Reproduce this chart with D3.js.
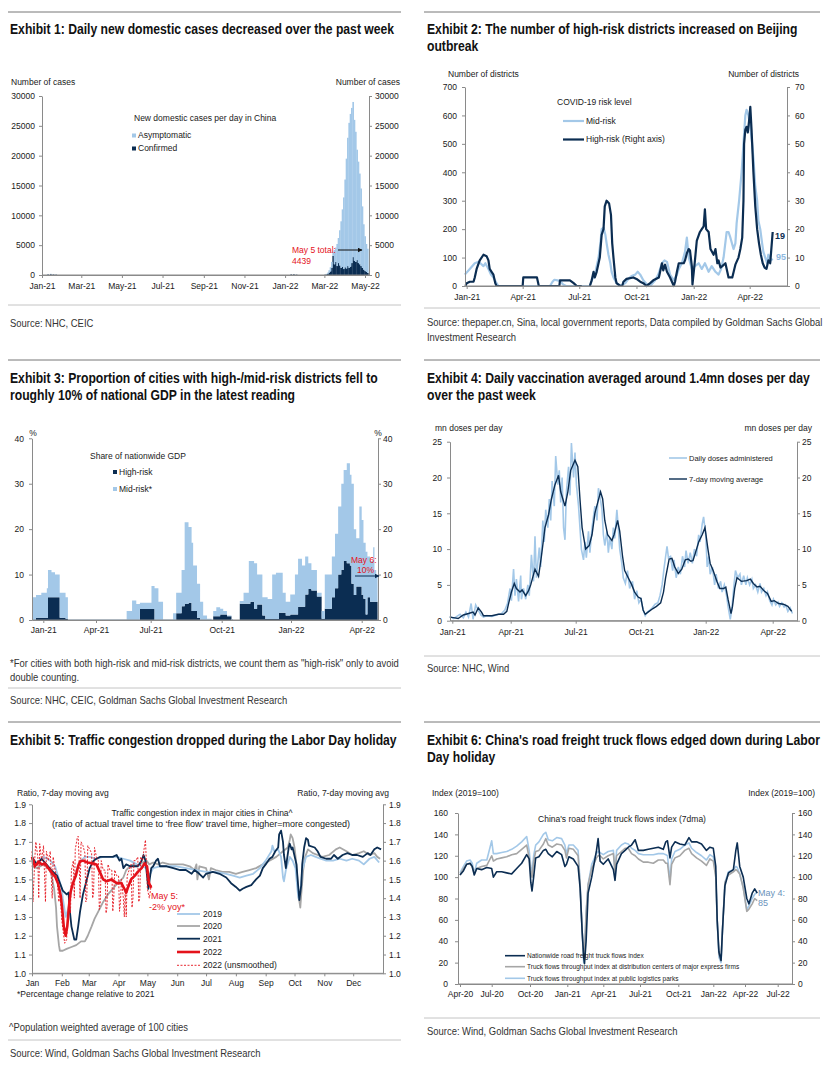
<!DOCTYPE html>
<html>
<head>
<meta charset="utf-8">
<script src="https://cdn.jsdelivr.net/npm/d3@7"></script>
<style>
  body { margin: 0; background: #fff; }
  text { font-family: "Liberation Sans", Arial, sans-serif; fill: #1a1a1a; font-size: 8.5px; }
  .title { font-weight: bold; font-size: 14.5px; fill: #111; }
  .src { font-size: 10.5px; fill: #333; }
  .axis text { font-family: "Liberation Sans", Arial, sans-serif; font-size: 8.5px; fill: #1a1a1a; }
</style>
</head>
<body>
<svg id="chart" width="831" height="1066"></svg>
<script>
const NAVY = '#0b2d52', LIGHT = '#a3c8e8', GRAY = '#a6a6a6', RED = '#e4121b', STEEL = '#6b93bb';
const parseDate = d3.timeParse('%Y-%m-%d');
const monthFmt = d3.timeFormat('%b-%y');

// ---- Exhibit 1: daily new domestic cases (2-day bins)
const casesDates = ['2021-01-09','2021-01-13','2021-01-17','2021-01-21','2022-01-09','2022-01-13','2022-01-17',
  '2022-03-01','2022-03-03','2022-03-05','2022-03-07','2022-03-09','2022-03-11','2022-03-13','2022-03-15',
  '2022-03-17','2022-03-19','2022-03-21','2022-03-23','2022-03-25','2022-03-27','2022-03-29','2022-03-31',
  '2022-04-02','2022-04-04','2022-04-06','2022-04-08','2022-04-10','2022-04-12','2022-04-14','2022-04-16',
  '2022-04-18','2022-04-20','2022-04-22','2022-04-24','2022-04-26','2022-04-28','2022-04-30','2022-05-02','2022-05-04'];
const casesConfirmed = [100,130,100,60,100,120,60,
  50,100,200,400,600,1200,3200,1800,2200,1500,2000,1600,1200,1400,1000,1300,
  1100,1500,1200,1400,2000,3000,2400,2200,2500,2000,1800,1500,1200,900,700,500,350];
const casesAsym = [60,70,50,30,20,30,20,
  50,100,200,400,700,1000,700,2400,2400,3700,4200,5900,7800,9600,12000,14700,
  18400,21500,24300,25600,26000,26000,23600,21800,18500,17000,15200,13000,10300,7600,5800,4700,4050];
const p1Ticks = ['2021-01-01','2021-03-01','2021-05-01','2021-07-01','2021-09-01','2021-11-01','2022-01-01','2022-03-01','2022-05-01'];
const p1YTicks = [0,5000,10000,15000,20000,25000,30000];

// ---- Exhibit 2: districts by risk level, [days since 2021-01-01, value]
const midRisk = [[-3,40],[5,60],[13,80],[19,85],[22,80],[27,70],[30,80],[35,60],[39,40],[43,30],[48,10],[51,0],
  [134,0],[138,15],[141,22],[146,20],[150,18],[155,5],[160,0],[198,0],[201,20],[206,40],[212,100],[215,150],
  [217,200],[220,205],[223,180],[225,150],[228,110],[231,80],[233,50],[236,30],[241,10],[247,0],[255,10],
  [260,25],[265,35],[271,40],[275,50],[279,40],[284,20],[290,5],[295,0],[303,20],[308,40],[314,80],[318,90],
  [322,85],[327,40],[333,20],[338,40],[341,60],[346,80],[351,120],[354,170],[357,100],[362,60],[367,70],
  [373,80],[378,60],[383,80],[389,50],[394,70],[400,50],[405,40],[409,60],[413,100],[418,190],[421,190],
  [424,170],[429,130],[432,150],[434,220],[438,300],[442,400],[445,500],[448,600],[450,620],[453,600],
  [456,560],[459,500],[461,450],[464,350],[467,300],[469,230],[472,200],[475,150],[477,120],[480,100],
  [483,80],[485,110],[489,90],[492,95]];
const highRisk = [[-2,0],[0,1],[5,1.5],[11,1.5],[13,3],[16,6],[21,9],[27,11],[32,10.5],[35,9],[37,6],[40,5],
  [43,4],[46,1],[48,0],[90,0],[91,3],[113,3],[116,0],[149,0],[150,2],[166,2],[172,1],[177,0],[185,0],[186,null],
  [198,0],[201,2],[204,5],[206,3],[209,5],[214,10],[217,18],[220,20],[222,28],[225,30],[229,29],[232,25],
  [234,15],[236,10],[239,3],[241,1],[247,0],[250,0],[252,1.5],[257,2.5],[268,3],[273,2.5],[279,1.5],[284,1],
  [289,0],[295,1],[300,2],[309,3],[311,5],[314,8],[316,5.5],[319,7.5],[322,5],[327,3],[330,1.5],[333,0],
  [335,1.5],[338,5],[341,8],[349,8],[351,9],[354,11.5],[357,13],[359,12.5],[362,7],[363,0.5],[367,9],
  [370,16],[375,19],[378,20],[381,21],[383,27],[385,20],[389,19],[392,13],[397,11],[400,13],[403,8],[405,9],
  [408,6.5],[411,7],[416,8],[419,5],[421,3],[427,3],[432,7.5],[435,9],[437,10],[440,13],[443,17],[445,30],
  [446,50],[448,55],[450,56],[452,54],[454,58],[456,63],[458,55],[461,40],[464,28],[467,20],[470,15],
  [473,11],[476,8],[479,6.5],[482,6],[485,9],[488,8],[492,19]];
const quarterDays = [0,90,181,273,365,455];
const quarterLabels = ['Jan-21','Apr-21','Jul-21','Oct-21','Jan-22','Apr-22'];

// ---- Exhibit 3: share of GDP (step series)
const gdpDates = ['2020-12-15','2020-12-21','2020-12-29','2021-01-07','2021-01-09','2021-01-15','2021-01-21',
  '2021-01-29','2021-02-04','2021-02-08','2021-02-12','2021-05-22','2021-05-31','2021-06-07','2021-06-13',
  '2021-07-02','2021-07-06','2021-07-11','2021-07-17','2021-07-30','2021-08-03','2021-08-10','2021-08-14',
  '2021-08-19','2021-08-23','2021-08-25','2021-08-30','2021-09-03','2021-09-07','2021-09-12','2021-09-18',
  '2021-09-20','2021-09-24','2021-09-29','2021-10-03','2021-10-08','2021-10-14','2021-10-16','2021-10-25',
  '2021-10-30','2021-11-06','2021-11-08','2021-11-13','2021-11-17','2021-11-24','2021-11-28','2021-12-01',
  '2021-12-07','2021-12-12','2021-12-16','2021-12-21','2021-12-25','2021-12-31','2022-01-06','2022-01-10',
  '2022-01-15','2022-01-19','2022-01-23','2022-01-27','2022-02-03','2022-02-09','2022-02-13','2022-02-22',
  '2022-02-26','2022-03-02','2022-03-06','2022-03-09','2022-03-13','2022-03-17','2022-03-19','2022-03-22',
  '2022-03-25','2022-03-29','2022-04-01','2022-04-05','2022-04-10','2022-04-14','2022-04-20','2022-04-27',
  '2022-04-30','2022-05-04','2022-05-07'];
const gdpHigh = [0,0.5,0.5,0.5,5,5,5,0.5,0.5,0.3,0,0,0,0,2.4,
  2.4,0,0,0,0,1.5,3,3.5,3.8,2,2,0.5,0,0,0,0,
  0.8,0.8,1.2,1.2,0.8,0,0,3.6,3.6,3.6,4,2.5,3.4,1,0.2,0.2,
  0.2,0.2,1.6,1.6,1,1.2,1.2,2.9,2.9,5.6,6.8,6.5,5.2,0.3,2.5,5,
  7,10,11,13,12.5,12,8,5.5,7.4,7.4,5.5,4.7,1.2,5,4,4,4,4,4];
const gdpMid = [5,5,5.5,6.5,6,5.5,5,5.5,5.5,4.7,0.1,2,4.3,3.5,1.4,
  5.1,7,4,0.1,1.5,4.5,8,18,16.7,15,10,7.5,4,1,0.3,0,
  1.2,2,1.3,0.8,0.2,0.2,0,0.6,2.4,9.4,9,10,6.6,4,4.8,4.4,
  9.8,10.2,8.8,4.4,3,4.4,8.8,10.6,9.1,8.4,5.7,4.5,0.8,1.7,7.5,9,
  12,15,19,20,22,20,22,14.5,10.6,17.6,16.5,12.3,13.8,9,9,12,7,6,6];
const p3Ticks = ['2021-01-01','2021-04-01','2021-07-01','2021-10-01','2022-01-01','2022-04-01'];

// ---- Exhibit 4: vaccination, [days since 2021-01-01, mn doses]
const dailyDoses = [[-4,0.6],[2,0.3],[7,0.6],[12,0.9],[17,0.4],[21,1.2],[25,0.5],[29,2.4],[32,0.2],[36,2.2],
  [40,1.5],[44,0.8],[48,0.5],[53,0.7],[61,0.6],[68,0.8],[76,1.0],[81,1.5],[85,2.4],[89,4.5],[91,2.8],[94,7.2],
  [96,3.5],[98,5.8],[101,2.7],[104,6.3],[105,3.0],[108,4.5],[111,3.0],[114,5.0],[116,3.5],[119,9.2],[122,5.5],
  [124,11.8],[126,6.0],[130,10.2],[132,7.5],[135,14.0],[137,11.0],[139,15.5],[142,13.0],[144,17.0],[146,14.0],
  [148,19.5],[151,16.0],[153,23.0],[156,19.0],[158,21.0],[160,16.5],[162,20.0],[164,13.0],[166,11.3],
  [168,18.0],[171,21.5],[173,17.5],[175,24.8],[178,20.0],[180,23.5],[182,19.0],[185,16.0],[187,13.0],
  [189,10.0],[192,8.5],[194,11.0],[196,8.8],[199,12.5],[201,9.5],[204,13.0],[206,14.5],[208,16.0],[211,14.0],
  [213,18.5],[215,17.5],[218,15.5],[220,12.0],[222,10.5],[225,12.5],[227,9.5],[229,11.5],[232,10.0],
  [234,13.0],[236,11.5],[239,15.5],[241,13.0],[243,10.0],[246,8.0],[248,6.0],[251,5.2],[254,7.0],[257,4.5],
  [261,5.5],[264,3.0],[267,4.2],[270,2.5],[273,3.0],[276,1.5],[279,0.7],[282,1.2],[286,1.5],[289,1.8],
  [293,2.3],[297,2.5],[300,3.5],[303,5.0],[306,7.5],[310,10.4],[312,8.8],[315,9.0],[318,7.0],[320,8.5],
  [323,6.0],[326,7.5],[329,6.5],[332,9.0],[335,7.5],[337,9.8],[340,8.0],[343,9.5],[346,8.0],[349,10.0],
  [352,9.0],[355,12.0],[357,11.0],[360,13.5],[362,14.5],[365,12.0],[367,7.5],[369,9.0],[371,6.5],[374,7.5],
  [377,5.0],[379,6.5],[382,4.5],[385,5.5],[387,4.0],[390,5.0],[393,3.5],[395,2.0],[398,0.2],[400,1.5],
  [403,5.0],[405,7.0],[408,6.0],[411,6.5],[413,5.0],[416,6.3],[419,5.0],[421,6.0],[424,5.0],[427,5.8],
  [429,4.5],[432,5.0],[435,4.0],[438,5.2],[440,4.0],[443,4.5],[446,3.5],[448,4.0],[451,2.8],[454,2.2],
  [456,3.0],[459,2.2],[462,2.6],[464,2.0],[467,2.5],[470,1.9],[472,2.2],[475,1.3],[478,1.8],[481,1.0]];
const dosesMA = [[-4,0.5],[4,0.4],[9,0.3],[17,0.8],[25,1.0],[32,1.2],[35,0.8],[40,1.8],[45,1.2],[48,0.7],
  [61,0.7],[71,0.9],[79,0.9],[84,1.3],[87,2.5],[91,4.0],[95,5.2],[98,4.5],[103,4.0],[106,4.3],[111,3.5],
  [115,4.2],[118,5.0],[124,7.2],[129,6.2],[133,9.0],[138,13.0],[143,14.8],[147,17.0],[152,19.0],[157,20.3],
  [160,18.0],[163,17.0],[166,16.0],[170,18.0],[174,21.0],[180,22.4],[184,21.5],[187,17.0],[190,13.0],
  [195,10.0],[200,10.5],[204,12.0],[208,15.0],[212,16.5],[216,18.0],[219,17.0],[222,14.0],[226,12.0],
  [232,11.2],[235,12.0],[240,14.0],[243,12.5],[247,9.0],[250,7.0],[255,6.0],[260,5.0],[264,4.0],[269,3.3],
  [273,3.1],[276,1.5],[279,0.9],[283,1.2],[290,1.7],[295,2.0],[301,2.5],[305,4.0],[308,6.0],[313,8.6],
  [317,8.7],[321,7.5],[326,6.6],[331,7.2],[336,8.5],[340,8.6],[344,8.3],[347,8.4],[352,10.0],[355,11.0],
  [360,12.0],[364,13.0],[368,10.0],[371,8.0],[375,7.0],[380,5.5],[384,4.5],[389,4.5],[392,4.7],[395,3.0],
  [399,1.0],[401,2.0],[404,4.5],[407,6.0],[413,5.5],[420,5.6],[425,5.8],[429,5.2],[434,4.7],[438,4.8],
  [444,4.1],[448,3.8],[453,2.7],[457,2.8],[463,2.4],[469,2.3],[475,2.0],[480,1.3]];

// ---- Exhibit 5: traffic congestion, [day of year, ratio]
const cong2019 = [[0,1.60],[5,1.59],[12,1.62],[19,1.60],[24,1.57],[27,1.52],[31,1.45],[32,1.40],[35,1.30],
  [38,1.35],[41,1.45],[45,1.52],[48,1.58],[51,1.60],[55,1.62],[60,1.62],[67,1.61],[74,1.62],[81,1.62],
  [88,1.62],[95,1.61],[102,1.60],[109,1.58],[114,1.57],[119,1.56],[122,1.52],[126,1.56],[133,1.57],
  [140,1.57],[150,1.57],[160,1.56],[171,1.55],[181,1.54],[191,1.54],[202,1.53],[209,1.52],[216,1.51],
  [223,1.52],[230,1.53],[237,1.56],[243,1.60],[249,1.65],[250,1.68],[252,1.65],[256,1.66],[259,1.62],
  [261,1.51],[262,1.49],[264,1.55],[268,1.62],[271,1.60],[274,1.56],[276,1.45],[277,1.40],[279,1.44],
  [281,1.55],[285,1.62],[290,1.63],[295,1.62],[300,1.61],[306,1.60],[313,1.60],[320,1.61],[327,1.60],
  [333,1.61],[340,1.60],[345,1.58],[351,1.61],[356,1.62],[361,1.59]];
const cong2020 = [[0,1.57],[5,1.56],[12,1.58],[17,1.56],[20,1.53],[23,1.45],[25,1.35],[26,1.25],[28,1.15],
  [29,1.12],[32,1.12],[36,1.13],[41,1.14],[46,1.15],[51,1.17],[55,1.17],[58,1.20],[62,1.25],[65,1.29],
  [69,1.33],[74,1.38],[79,1.42],[84,1.45],[89,1.48],[95,1.51],[98,1.55],[102,1.57],[105,1.58],[109,1.57],
  [112,1.58],[115,1.59],[119,1.60],[122,1.58],[126,1.59],[131,1.58],[136,1.59],[143,1.58],[150,1.58],
  [157,1.58],[164,1.57],[169,1.55],[171,1.58],[172,1.50],[174,1.57],[181,1.56],[184,1.50],[186,1.56],
  [191,1.55],[198,1.54],[205,1.54],[212,1.53],[219,1.54],[226,1.55],[233,1.56],[240,1.58],[247,1.60],
  [254,1.62],[261,1.65],[266,1.67],[268,1.71],[269,1.74],[271,1.72],[273,1.67],[275,1.58],[277,1.42],
  [279,1.35],[280,1.42],[282,1.55],[284,1.62],[287,1.66],[292,1.64],[297,1.63],[302,1.62],[309,1.63],
  [316,1.66],[320,1.67],[327,1.65],[333,1.63],[340,1.64],[345,1.65],[351,1.63],[356,1.64],[359,1.62],[362,1.61]];
const cong2021 = [[0,1.62],[5,1.58],[10,1.61],[15,1.58],[20,1.55],[26,1.52],[29,1.48],[32,1.44],[36,1.42],
  [38,1.43],[39,1.35],[41,1.25],[44,1.18],[46,1.18],[48,1.25],[50,1.33],[53,1.42],[57,1.50],[60,1.56],
  [64,1.60],[67,1.61],[71,1.62],[77,1.62],[84,1.62],[88,1.63],[91,1.60],[93,1.61],[95,1.56],[98,1.58],
  [102,1.57],[105,1.57],[110,1.57],[114,1.60],[116,1.63],[118,1.60],[120,1.50],[121,1.45],[124,1.56],
  [126,1.57],[129,1.60],[131,1.61],[133,1.57],[140,1.57],[147,1.56],[154,1.55],[160,1.55],[166,1.53],
  [169,1.55],[174,1.53],[178,1.51],[181,1.53],[188,1.54],[195,1.53],[202,1.51],[207,1.48],[212,1.46],
  [216,1.44],[219,1.45],[223,1.46],[228,1.47],[233,1.50],[237,1.52],[240,1.56],[243,1.58],[247,1.61],
  [250,1.62],[253,1.65],[256,1.67],[257,1.74],[259,1.76],[261,1.70],[262,1.63],[264,1.56],[265,1.60],
  [267,1.67],[268,1.69],[270,1.66],[271,1.67],[275,1.58],[277,1.45],[278,1.39],[280,1.47],[281,1.58],
  [283,1.67],[285,1.72],[287,1.71],[288,1.68],[294,1.67],[297,1.65],[300,1.62],[306,1.61],[311,1.61],
  [314,1.63],[318,1.61],[323,1.63],[328,1.64],[333,1.63],[338,1.63],[344,1.62],[349,1.64],[352,1.63],
  [356,1.66],[359,1.67],[363,1.66]];
const cong2022 = [[0,1.62],[3,1.57],[7,1.595],[10,1.58],[13.5,1.585],[17,1.56],[20,1.54],[24,1.515],[27,1.48],
  [30,1.41],[31.5,1.34],[33,1.25],[35,1.20],[36.7,1.25],[38.4,1.355],[40,1.43],[42,1.47],[44,1.50],
  [45.6,1.52],[48,1.57],[50,1.595],[53,1.60],[58,1.59],[63.6,1.585],[67,1.58],[70.5,1.54],[74,1.50],
  [77.5,1.49],[82.6,1.50],[88,1.48],[93,1.48],[96.5,1.445],[98,1.43],[100,1.46],[103,1.50],[107,1.52],
  [110,1.54],[114,1.56],[117,1.585],[119.6,1.57],[121.7,1.48],[124,1.455]];
const cong2022Raw = [[0,1.65],[1,1.38],[3,1.62],[4,1.70],[6,1.62],[7,1.40],[8,1.69],[10,1.60],[12,1.68],
  [14,1.38],[15,1.65],[17,1.60],[19,1.65],[21,1.40],[22,1.62],[24,1.55],[26,1.50],[28,1.38],[29,1.45],
  [31,1.28],[33,1.20],[34,1.16],[36,1.18],[37,1.28],[39,1.40],[40,1.32],[41,1.55],[43,1.60],[44,1.40],
  [45,1.66],[47,1.72],[48,1.73],[49,1.60],[50,1.40],[51,1.70],[53,1.68],[55,1.64],[56,1.38],[57,1.40],
  [58,1.68],[60,1.66],[62,1.64],[63,1.40],[64,1.42],[65,1.67],[67,1.62],[69,1.60],[70,1.34],[71,1.38],
  [72,1.60],[74,1.55],[76,1.55],[77,1.32],[78,1.35],[79,1.58],[81,1.55],[83,1.55],[84,1.33],[85,1.40],
  [86,1.55],[88,1.52],[90,1.52],[91,1.33],[92,1.38],[93,1.50],[95,1.40],[96,1.30],[97,1.45],[98,1.30],
  [99,1.52],[101,1.55],[103,1.58],[104,1.35],[105,1.40],[106,1.60],[108,1.60],[110,1.62],[111,1.38],
  [112,1.40],[113,1.62],[115,1.60],[117,1.68],[118,1.71],[119,1.58],[120,1.45],[122,1.40],[124,1.47]];
const monthDays = [0,31,59,90,120,151,181,212,243,273,304,334];
const monthLabels = ['Jan','Feb','Mar','Apr','May','Jun','Jul','Aug','Sep','Oct','Nov','Dec'];
const congYTicks = [1.0,1.1,1.2,1.3,1.4,1.5,1.6,1.7,1.8,1.9];

// ---- Exhibit 6: truck flows, days since 2020-04-01
const truckDays = [0,10,19,29,35,41,48,62,77,91,95,103,115,127,139,151,163,175,181,185,188,192,197,205,216,
  222,228,238,249,261,269,273,279,290,302,307,312,316,318,322,327,336,348,352,357,365,377,390,394,398,410,
  419,427,435,444,452,464,476,488,500,512,518,522,528,532,540,552,565,576,583,596,609,622,631,640,647,651,
  656,662,666,673,683,697,704,708,715,725,735,741,750,757,764];
const truckNation = [102,106,112,113,110,102,108,107,109,108,100,105,105,104,103,108,113,121,117,95,87,100,118,
  119,125,126,122,119,124,121,110,112,119,117,110,90,50,25,19,40,85,100,125,136,115,112,117,107,97,112,122,
  125,128,130,135,125,125,126,127,128,126,133,134,118,128,133,131,130,137,133,133,131,125,128,127,110,60,
  30,22,50,92,104,107,125,132,110,100,80,75,85,89,85];
const truckExpress = [102,108,112,112,110,103,108,110,111,120,115,117,118,119,121,122,126,130,118,105,100,115,
  124,125,131,136,130,128,131,130,125,118,127,126,120,92,50,25,30,65,93,108,118,120,120,117,120,122,105,120,
  124,127,127,122,120,117,114,114,113,116,116,113,113,93,112,118,120,125,127,122,118,115,111,117,115,100,60,
  28,22,50,95,102,105,107,106,103,90,68,70,75,80,78];
const truckParks = [104,110,115,116,113,104,113,116,116,134,122,122,123,124,126,129,133,138,125,110,105,120,
  130,133,140,142,135,134,137,136,130,122,130,130,125,95,50,20,25,68,93,112,122,124,123,121,124,125,103,125,
  130,132,131,127,125,122,121,121,121,122,122,121,120,97,117,124,126,130,132,127,123,120,116,121,119,103,60,
  25,20,50,95,105,107,110,109,103,90,70,73,80,84,86];
const truckTickDays = [0,91,183,275,365,456,548,640,730,821];
const truckTickLabels = ['Apr-20','Jul-20','Oct-20','Jan-21','Apr-21','Jul-21','Oct-21','Jan-22','Apr-22','Jul-22'];
const truckYTicks = [0,20,40,60,80,100,120,140,160];

// ------------------------------------------------------------------
const svg = d3.select('#chart');
const defs = svg.append('defs');
function arrowHead(id, color) {
  defs.append('marker').attr('id', id).attr('viewBox', '0 0 10 10')
    .attr('refX', 9).attr('refY', 5).attr('markerWidth', 5).attr('markerHeight', 5)
    .attr('orient', 'auto').append('path').attr('d', 'M0,0L10,5L0,10z').attr('fill', color);
}
arrowHead('arrBlack', '#111');
arrowHead('arrNavy', NAVY);

// the report's narrow face is not installed: squeeze the regular face horizontally
function label(x, y, s, opts = {}) {
  const t = svg.append('text').attr('dy', '0.35em').text(s)
    .attr('text-anchor', opts.anchor || 'start');
  if (opts.sx) {
    t.attr('transform', `translate(${x},${y}) scale(${opts.sx},1)`);
  } else {
    t.attr('x', x).attr('y', y);
  }
  if (opts.cls) t.attr('class', opts.cls);
  if (opts.fill) t.style('fill', opts.fill);
  if (opts.size) t.style('font-size', opts.size + 'px');
  if (opts.weight) t.style('font-weight', opts.weight);
  return t;
}
const title = (x, y, s) => label(x, y, s, {cls: 'title', sx: 0.84});
const source = (x, y, s) => label(x, y, s, {cls: 'src', sx: 0.9});

function hline(x1, x2, y, color) {
  svg.append('line').attr('x1', x1).attr('x2', x2).attr('y1', y).attr('y2', y)
    .attr('stroke', color).attr('stroke-width', 1);
}
function axes(x, yL, yR, o) {
  const xr = x.range(), left = xr[0], right = xr[xr.length - 1], bottom = yL.range()[0];
  const g = svg.append('g').attr('class', 'axis').attr('color', '#8a8a8a');
  g.append('g').attr('transform', `translate(0,${bottom})`)
    .call(d3.axisBottom(x).tickValues(o.xTicks).tickFormat(o.xFmt).tickSize(3).tickSizeOuter(0).tickPadding(o.px));
  g.append('g').attr('transform', `translate(${left},0)`)
    .call(d3.axisLeft(yL).tickValues(o.yTicks).tickFormat(o.yFmt).tickSize(3).tickSizeOuter(0).tickPadding(o.pl));
  g.append('g').attr('transform', `translate(${right},0)`)
    .call(d3.axisRight(yR).tickValues(o.yTicksR || o.yTicks).tickFormat(o.yFmt).tickSize(3).tickSizeOuter(0).tickPadding(o.pr));
  g.append('line').attr('x1', left).attr('x2', right).attr('y1', bottom).attr('y2', bottom).attr('stroke', '#8a8a8a');
}

// page rules and titles
[12, 360, 722].forEach(y => { hline(8, 401, y, '#777'); hline(424, 820, y, '#777'); });
title(10, 29, 'Exhibit 1: Daily new domestic cases decreased over the past week');
title(427, 29, 'Exhibit 2: The number of high-risk districts increased on Beijing');
title(427, 46, 'outbreak');
title(10, 378, 'Exhibit 3: Proportion of cities with high-/mid-risk districts fell to');
title(10, 395, 'roughly 10% of national GDP in the latest reading');
title(427, 378, 'Exhibit 4: Daily vaccination averaged around 1.4mn doses per day');
title(427, 395, 'over the past week');
title(10, 740, 'Exhibit 5: Traffic congestion dropped during the Labor Day holiday');
title(427, 740, "Exhibit 6: China's road freight truck flows edged down during Labor");
title(427, 757, 'Day holiday');

// ================= Exhibit 1 =================
{
  const x = d3.scaleTime().domain([parseDate('2021-01-01'), parseDate('2022-05-07')]).range([42, 369]);
  const y = d3.scaleLinear().domain([0, 30000]).range([275, 96]);
  const rows = casesDates.map((d, i) => ({date: parseDate(d), confirmed: casesConfirmed[i], asymptomatic: casesAsym[i]}));
  const stacked = d3.stack().keys(['confirmed', 'asymptomatic'])(rows);
  svg.append('g').selectAll('g').data(stacked).join('g')
    .attr('fill', (d, i) => i ? LIGHT : NAVY)
    .selectAll('rect').data(d => d).join('rect')
    .attr('x', d => x(d.data.date))
    .attr('width', d => x(d3.timeDay.offset(d.data.date, 2)) - x(d.data.date) + 0.3)
    .attr('y', d => y(d[1]))
    .attr('height', d => y(d[0]) - y(d[1]));
  axes(x, y, y, {xTicks: p1Ticks.map(parseDate), xFmt: monthFmt, yTicks: p1YTicks, yFmt: d3.format('d'), px: 5, pl: 4, pr: 3});
  label(11, 82, 'Number of cases');
  label(400, 82, 'Number of cases', {anchor: 'end'});
  label(134, 118, 'New domestic cases per day in China');
  svg.append('rect').attr('x', 132).attr('y', 133.5).attr('width', 4).attr('height', 4).attr('fill', LIGHT);
  svg.append('rect').attr('x', 132).attr('y', 146.5).attr('width', 4).attr('height', 4).attr('fill', NAVY);
  label(138, 135.5, 'Asymptomatic');
  label(138, 148.5, 'Confirmed');
  label(292, 250, 'May 5 total:', {fill: RED});
  label(292, 261, '4439', {fill: RED});
  svg.append('line').attr('x1', 338).attr('x2', 362).attr('y1', 250).attr('y2', 250)
    .attr('stroke', '#111').attr('stroke-width', 1).attr('marker-end', 'url(#arrBlack)');
  hline(8, 401, 305, '#c4c4c4');
  source(10, 323, 'Source: NHC, CEIC');
}

// ================= Exhibit 2 =================
{
  const x = d3.scaleLinear().domain([-2.7, 515]).range([465, 787]);
  const yL = d3.scaleLinear().domain([0, 700]).range([286, 87]);
  const yR = d3.scaleLinear().domain([0, 70]).range([286, 87]);
  svg.append('path').datum(midRisk).attr('fill', 'none').attr('stroke', LIGHT).attr('stroke-width', 2.2)
    .attr('stroke-linejoin', 'round')
    .attr('d', d3.line().x(d => x(d[0])).y(d => yL(d[1])));
  svg.append('path').datum(highRisk).attr('fill', 'none').attr('stroke', NAVY).attr('stroke-width', 2.2)
    .attr('stroke-linejoin', 'round')
    .attr('d', d3.line().defined(d => d[1] !== null).x(d => x(d[0])).y(d => yR(d[1])));
  axes(x, yL, yR, {xTicks: quarterDays, xFmt: (d, i) => quarterLabels[i], yTicks: d3.range(0, 701, 100),
    yTicksR: d3.range(0, 71, 10), yFmt: d3.format('d'), px: 5, pl: 5, pr: 5});
  label(448, 74, 'Number of districts');
  label(799, 74, 'Number of districts', {anchor: 'end'});
  label(557, 102, 'COVID-19 risk level');
  svg.append('line').attr('x1', 563).attr('x2', 584).attr('y1', 121).attr('y2', 121).attr('stroke', LIGHT).attr('stroke-width', 2.2);
  svg.append('line').attr('x1', 563).attr('x2', 584).attr('y1', 139.5).attr('y2', 139.5).attr('stroke', NAVY).attr('stroke-width', 2.2);
  label(586, 121, 'Mid-risk');
  label(586, 139.5, 'High-risk (Right axis)');
  label(775, 236, '19', {fill: NAVY, weight: 'bold', size: 9});
  label(776, 257, '95', {fill: '#8fb9df', weight: 'bold', size: 9});
  hline(424, 820, 308, '#c4c4c4');
  source(427, 322, 'Source: thepaper.cn, Sina, local government reports, Data compiled by Goldman Sachs Global');
  source(427, 337, 'Investment Research');
}

// ================= Exhibit 3 =================
{
  const x = d3.scaleTime()
    .domain(['2020-12-15','2021-01-01','2021-04-01','2021-07-01','2021-10-01','2022-01-01','2022-04-01','2022-05-08'].map(parseDate))
    .range([32, 43.3, 96, 150.7, 221.7, 291, 361.7, 378]);
  const y = d3.scaleLinear().domain([0, 40]).range([620, 438.3]);
  const rows = gdpDates.map((d, i) => ({date: parseDate(d), high: gdpHigh[i], mid: gdpMid[i]}));
  const stacked = d3.stack().keys(['high', 'mid'])(rows);
  const area = d3.area().curve(d3.curveStepAfter)
    .x(d => x(d.data.date)).y0(d => y(d[0])).y1(d => y(d[1]));
  svg.append('g').selectAll('path').data(stacked).join('path')
    .attr('fill', (d, i) => i ? LIGHT : NAVY).attr('d', area);
  axes(x, y, y, {xTicks: p3Ticks.map(parseDate), xFmt: monthFmt, yTicks: [0,10,20,30,40], yFmt: d3.format('d'), px: 4, pl: 5, pr: 2});
  label(33, 433, '%', {anchor: 'middle'});
  label(378, 433, '%', {anchor: 'middle'});
  label(90, 456, 'Share of nationwide GDP');
  svg.append('rect').attr('x', 113).attr('y', 470).attr('width', 4).attr('height', 4).attr('fill', NAVY);
  svg.append('rect').attr('x', 113).attr('y', 487).attr('width', 4).attr('height', 4).attr('fill', LIGHT);
  label(119, 472, 'High-risk');
  label(119, 489, 'Mid-risk*');
  label(351, 560, 'May 6:', {fill: RED});
  label(357, 570, '10%', {fill: RED});
  svg.append('line').attr('x1', 355).attr('x2', 379).attr('y1', 576).attr('y2', 576)
    .attr('stroke', NAVY).attr('stroke-width', 1).attr('marker-end', 'url(#arrNavy)');
  source(10, 663, '*For cities with both high-risk and mid-risk districts, we count them as "high-risk" only to avoid');
  source(10, 677, 'double counting.');
  hline(8, 401, 688, '#c4c4c4');
  source(10, 700, 'Source: NHC, CEIC, Goldman Sachs Global Investment Research');
}

// ================= Exhibit 4 =================
{
  const x = d3.scaleLinear().domain([-3.6, 0, 90, 181, 273, 365, 455, 487])
    .range([450, 452.3, 510.7, 575.7, 641, 705.7, 772.7, 797]);
  const y = d3.scaleLinear().domain([0, 25]).range([620.7, 441.7]);
  const line = d3.line().x(d => x(d[0])).y(d => y(d[1]));
  svg.append('path').datum(dailyDoses).attr('fill', 'none').attr('stroke', LIGHT).attr('stroke-width', 1.6).attr('d', line);
  svg.append('path').datum(dosesMA).attr('fill', 'none').attr('stroke', NAVY).attr('stroke-width', 1.4).attr('d', line);
  axes(x, y, y, {xTicks: quarterDays, xFmt: (d, i) => quarterLabels[i], yTicks: [0,5,10,15,20,25], yFmt: d3.format('d'), px: 5, pl: 5, pr: 2});
  label(435, 428, 'mn doses per day');
  label(812, 428, 'mn doses per day', {anchor: 'end'});
  svg.append('line').attr('x1', 669).attr('x2', 687).attr('y1', 458).attr('y2', 458).attr('stroke', LIGHT).attr('stroke-width', 1.6);
  svg.append('line').attr('x1', 669).attr('x2', 687).attr('y1', 479).attr('y2', 479).attr('stroke', NAVY).attr('stroke-width', 1.4);
  label(689, 458, 'Daily doses administered', {size: 7.5});
  label(689, 479, '7-day moving average', {size: 7.5});
  hline(424, 820, 656, '#c4c4c4');
  source(427, 668, 'Source: NHC, Wind');
}

// ================= Exhibit 5 =================
{
  const x = d3.scaleLinear().domain([0, 365]).range([32, 383]);
  const y = d3.scaleLinear().domain([1.0, 1.9]).range([973.3, 804.3]);
  const line = d3.line().x(d => x(d[0])).y(d => y(d[1]));
  const series = [
    {data: cong2020, color: GRAY, w: 1.8},
    {data: cong2019, color: LIGHT, w: 1.8},
    {data: cong2021, color: NAVY, w: 1.8},
    {data: cong2022Raw, color: RED, w: 0.9, dash: '2,1.5'},
    {data: cong2022, color: RED, w: 2.6}
  ];
  series.forEach(s => {
    svg.append('path').datum(s.data).attr('fill', 'none').attr('stroke', s.color).attr('stroke-width', s.w)
      .attr('stroke-dasharray', s.dash || null).attr('stroke-linejoin', 'round').attr('d', line);
  });
  axes(x, y, y, {xTicks: monthDays, xFmt: (d, i) => monthLabels[i], yTicks: congYTicks, yFmt: d3.format('.1f'), px: 4, pl: 3, pr: 3});
  label(17, 793, 'Ratio, 7-day moving avg');
  label(389, 793, 'Ratio, 7-day moving avg', {anchor: 'end'});
  label(202, 813, 'Traffic congestion index in major cities in China^', {anchor: 'middle'});
  label(201, 824, "(ratio of actual travel time to \u2018free flow\u2019 travel time, higher=more congested)", {anchor: 'middle', size: 9});
  const legend = [['2019', LIGHT, 1.8, null], ['2020', GRAY, 1.8, null], ['2021', NAVY, 1.8, null],
    ['2022', RED, 2.6, null], ['2022 (unsmoothed)', RED, 0.9, '2,1.5']];
  const legendY = [914, 926, 938.7, 952, 965.3];
  legend.forEach((l, i) => {
    svg.append('line').attr('x1', 177).attr('x2', 200).attr('y1', legendY[i]).attr('y2', legendY[i])
      .attr('stroke', l[1]).attr('stroke-width', l[2]).attr('stroke-dasharray', l[3]);
    label(203, legendY[i], l[0]);
  });
  label(151, 896, 'May 5:', {fill: RED, size: 9});
  label(149, 907, '-2% yoy*', {fill: RED, size: 9});
  label(17, 994, '*Percentage change relative to 2021');
  source(9, 1027, '^Population weighted average of 100 cities');
  hline(8, 401, 1040, '#c4c4c4');
  source(10, 1053, 'Source: Wind, Goldman Sachs Global Investment Research');
}

// ================= Exhibit 6 =================
{
  const x = d3.scaleLinear().domain([-2, 0, 91, 183, 275, 365, 456, 548, 640, 730, 821, 861])
    .range([458, 460, 491.7, 530, 567.3, 603.3, 640, 678.3, 713.3, 745, 777.7, 792]);
  const y = d3.scaleLinear().domain([0, 160]).range([984, 813]);
  const mk = vals => truckDays.map((d, i) => [d, vals[i]]);
  const line = d3.line().x(d => x(d[0])).y(d => y(d[1]));
  [[truckParks, LIGHT], [truckExpress, GRAY], [truckNation, NAVY]].forEach(s => {
    svg.append('path').datum(mk(s[0])).attr('fill', 'none').attr('stroke', s[1]).attr('stroke-width', 1.6)
      .attr('stroke-linejoin', 'round').attr('d', line);
  });
  axes(x, y, y, {xTicks: truckTickDays, xFmt: (d, i) => truckTickLabels[i], yTicks: truckYTicks, yFmt: d3.format('d'), px: 4, pl: 7, pr: 3});
  label(432, 793, 'Index (2019=100)');
  label(815, 793, 'Index (2019=100)', {anchor: 'end'});
  label(622, 819, "China's road freight truck flows index (7dma)", {anchor: 'middle'});
  const legend = [['Nationwide road freight truck flows index', NAVY],
    ['Truck flows throughput index at distribution centers of major express firms', GRAY],
    ['Truck flows throughput index at public logistics parks', LIGHT]];
  const legendY = [955.7, 966.7, 978.3];
  legend.forEach((l, i) => {
    svg.append('line').attr('x1', 505).attr('x2', 525).attr('y1', legendY[i]).attr('y2', legendY[i])
      .attr('stroke', l[1]).attr('stroke-width', 1.6);
    label(527, legendY[i], l[0], {size: 6.5});
  });
  label(758, 893, 'May 4:', {fill: STEEL, size: 9});
  label(758, 903, '85', {fill: STEEL, size: 9});
  hline(424, 820, 1018, '#c4c4c4');
  source(427, 1031, 'Source: Wind, Goldman Sachs Global Investment Research');
}
</script>
</body>
</html>
